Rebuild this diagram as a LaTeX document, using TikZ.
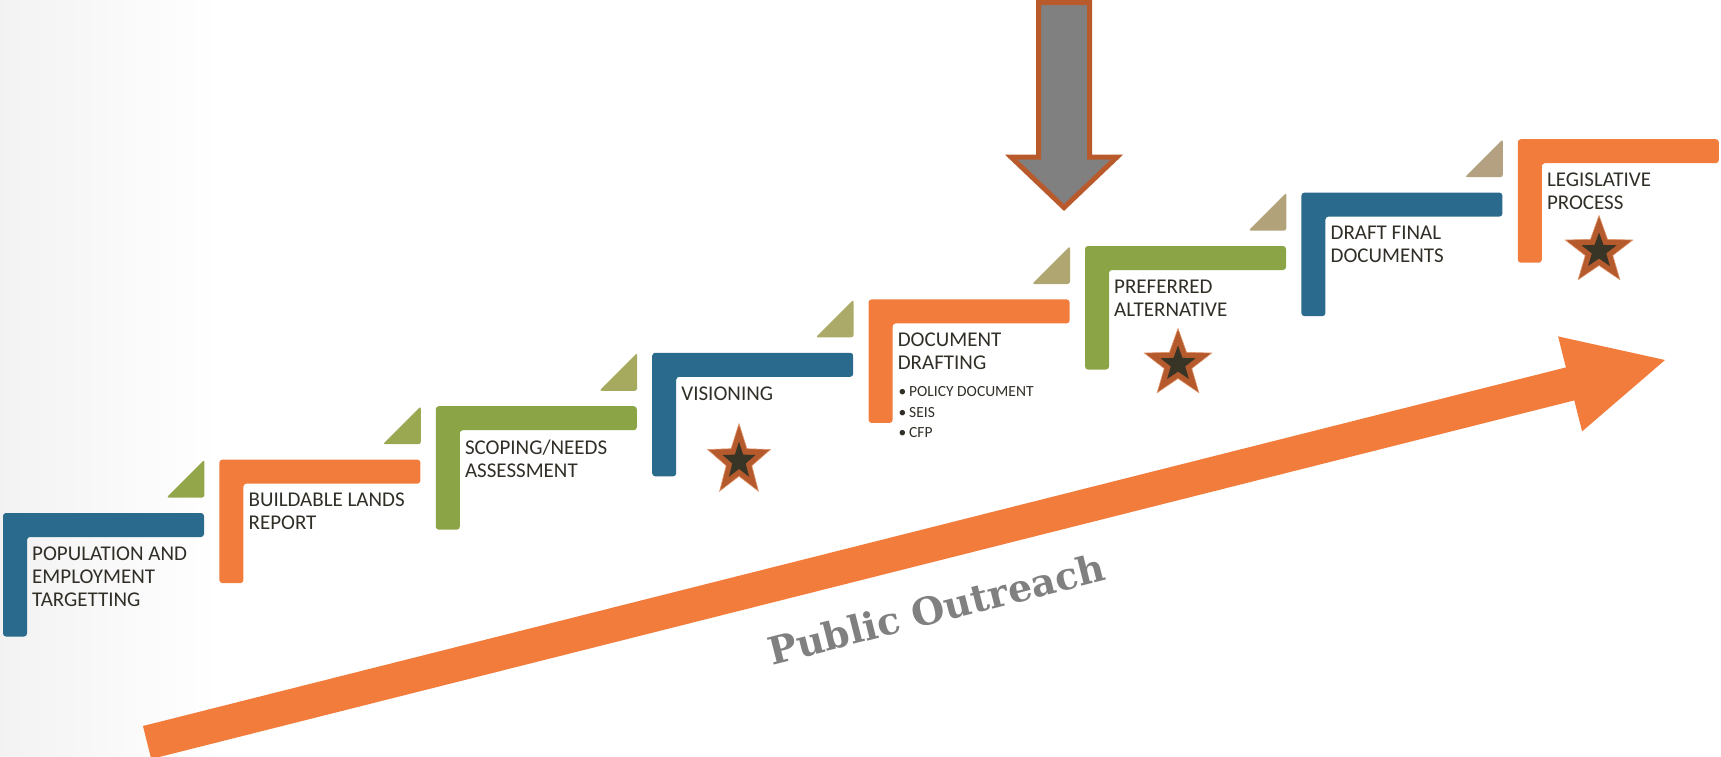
\documentclass[tikz,border=0pt]{standalone}
\usepackage{fontspec}
\setmainfont{Carlito}
\newfontfamily\pubfont{DejaVu Serif}
\usetikzlibrary{shapes.geometric}
\definecolor{stblue}{RGB}{42,106,140}
\definecolor{storange}{RGB}{242,124,60}
\definecolor{stgreen}{RGB}{138,164,70}
\definecolor{txt}{RGB}{48,46,38}
\definecolor{starbrown}{RGB}{180,90,44}
\definecolor{starrim}{RGB}{226,150,110}
\definecolor{stardark}{RGB}{56,52,38}
\definecolor{arrgray}{RGB}{128,128,128}
\definecolor{arrborder}{RGB}{184,90,44}
\definecolor{trA}{RGB}{148,166,74}
\definecolor{trB}{RGB}{155,168,82}
\definecolor{trC}{RGB}{166,170,94}
\definecolor{trD}{RGB}{172,170,104}
\definecolor{trE}{RGB}{175,166,114}
\definecolor{trF}{RGB}{177,162,122}
\definecolor{trG}{RGB}{179,161,130}
\begin{document}
\begin{tikzpicture}[x=1pt,y=-1pt,
  lbl/.style={anchor=north west, inner sep=0pt, align=left, text=txt,
    font=\fontsize{21}{23}\selectfont},
  sublbl/.style={anchor=north west, inner sep=0pt, align=left, text=txt,
    font=\fontsize{15.5}{20.5}\selectfont},
  outerstar/.style={star, star points=5, star point ratio=2.45, minimum size=71pt,
    inner sep=0pt, fill=starbrown, draw=starrim, line width=0.6pt},
  innerstar/.style={star, star points=5, star point ratio=2.45, minimum size=37pt,
    inner sep=0pt, fill=stardark},
  stepshape/.style={rounded corners=3pt},
  trishape/.style={rounded corners=2.5pt}]
\useasboundingbox (0,0) rectangle (1721,756);
% faint background shade on the left
\shade[left color=black!5, right color=white] (0,0) rectangle (220,756);

% L-shaped steps
\foreach \i/\col in {0/stblue,1/storange,2/stgreen,3/stblue,4/storange,5/stgreen,6/stblue,7/storange}{
  \pgfmathsetmacro\sx{3+216.4*\i}
  \pgfmathsetmacro\sy{513-53.4*\i}
  \fill[\col, stepshape] (\sx,\sy) -- ++(201,0) -- ++(0,24) -- ++(-177,0) -- ++(0,99.5) -- ++(-24,0) -- cycle;
}
% small triangles
\foreach \i/\col in {1/trA,2/trB,3/trC,4/trD,5/trE,6/trF,7/trG}{
  \pgfmathsetmacro\sx{3+216.4*\i}
  \pgfmathsetmacro\sy{513-53.4*\i}
  \fill[\col, trishape] (\sx-53,\sy+38) -- (\sx-15,\sy+38) -- (\sx-15,\sy) -- cycle;
}

% labels
\node[lbl] (s1) at (32,546.5) {POPULATION AND\\EMPLOYMENT\\TARGETTING};
\node[lbl] (s2) at (248.4,493.1) {BUILDABLE LANDS\\REPORT};
\node[lbl] (s3) at (464.8,439.7) {SCOPING/NEEDS\\ASSESSMENT};
\node[lbl] (s4) at (681.2,386.3) {VISIONING};
\node[lbl] (s5) at (897.6,332.9) {DOCUMENT\\DRAFTING};
\node[sublbl] (s5b) at (898.5,386.5) {\makebox[10.5pt][l]{•}POLICY DOCUMENT\\\makebox[10.5pt][l]{•}SEIS\\\makebox[10.5pt][l]{•}CFP};
\node[lbl] (s6) at (1114,279.5) {PREFERRED\\ALTERNATIVE};
\node[lbl] (s7) at (1330.4,226.1) {DRAFT FINAL\\DOCUMENTS};
\node[lbl] (s8) at (1546.8,172.7) {LEGISLATIVE\\PROCESS};

% stars
\begin{scope}[shift={(739,461)}, xscale=0.93, yscale=1.05]
  \node[outerstar, transform shape] (st1) at (0,0) {};
  \node[innerstar, transform shape] (st1i) at (0,0) {};
\end{scope}
\node[outerstar] (st2) at (1178,364) {};
\node[innerstar] (st2i) at (st2.center) {};
\node[outerstar] (st3) at (1599,251) {};
\node[innerstar] (st3i) at (st3.center) {};

% grey down arrow
\draw[arrborder, fill=arrgray, line width=5pt, line join=miter]
  (1038.5,2.5) -- (1089.5,2.5) -- (1089.5,157) -- (1117,157) -- (1064,207.5)
  -- (1011,157) -- (1038.5,157) -- cycle;

% big orange arrow
\fill[storange] (142.95,726.0) -- (1565.9,367.4) -- (1558.1,336.4) -- (1665,360)
  -- (1582.1,431.4) -- (1574.3,400.4) -- (151.25,759.0) -- cycle;

\node[rotate=14.3, anchor=base, inner sep=0pt, text=arrgray,
  font=\pubfont\bfseries\fontsize{38}{38}\selectfont] (pub) at (940,622.5)
  {Public Outreach};
\end{tikzpicture}
\end{document}
